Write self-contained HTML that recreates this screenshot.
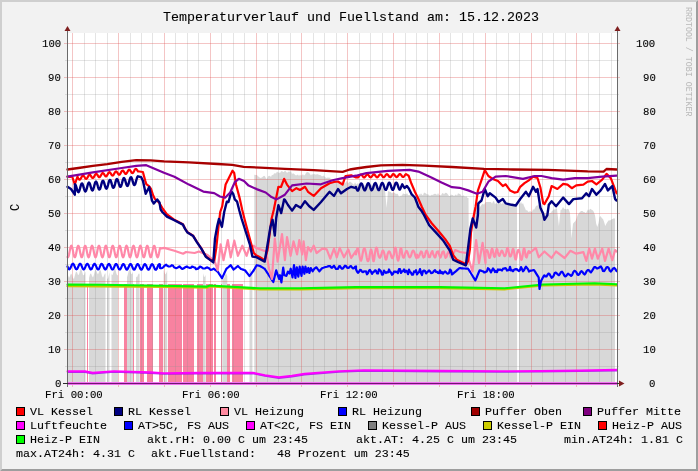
<!DOCTYPE html><html><head><meta charset="utf-8"><style>
html,body{margin:0;padding:0;width:698px;height:471px;overflow:hidden;background:#F2F2F2}
svg{position:absolute;left:0;top:0}
.t{position:absolute;font-family:"Liberation Mono",monospace;white-space:pre;color:#000;line-height:1;-webkit-font-smoothing:antialiased;-webkit-text-stroke:0.1px #000;will-change:transform}
</style></head><body>
<svg width="698" height="471" viewBox="0 0 698 471"><rect x="0" y="0" width="698" height="471" fill="#F2F2F2"/><polygon points="0,0 698,0 696,2 2,2 2,469 0,471" fill="#CFCFCF"/><polygon points="698,471 0,471 2,469 696,469 696,2 698,0" fill="#9E9E9E"/><rect x="67" y="33" width="550" height="350" fill="#FFFFFF"/><polygon points="68.0,383.0 68.0,275.3 69.0,277.9 70.0,276.1 71.0,273.5 72.0,274.7 73.0,278.2 74.0,278.7 75.0,274.9 76.0,271.4 77.0,272.2 78.0,274.9 79.0,274.4 80.0,270.6 81.0,268.5 82.0,271.2 83.0,275.0 84.0,275.2 85.0,272.5 85.5,271.8 85.5,383.0" fill="#D8D8D8"/><polygon points="89.0,383.0 89.0,278.0 90.0,274.3 91.0,273.3 92.0,275.9 93.0,277.4 94.0,274.4 95.0,270.1 96.0,269.7 97.0,272.8 98.0,274.5 99.0,272.1 100.0,269.6 101.0,271.4 102.0,275.9 103.0,277.8 104.0,275.4 105.0,273.3 105.5,273.8 105.5,383.0" fill="#D8D8D8"/><polygon points="107.0,383.0 107.0,278.7 108.0,278.4 109.0,274.3 109.5,272.3 109.5,383.0" fill="#D8D8D8"/><polygon points="111.5,383.0 111.5,274.3 112.5,275.2 113.5,272.0 114.5,268.7 115.5,269.8 116.5,273.9 117.5,275.6 118.0,274.7 118.0,383.0" fill="#D8D8D8"/><polygon points="127.0,383.0 127.0,277.3 128.0,273.7 129.0,269.8 130.0,270.1 131.0,273.4 132.0,274.3 133.0,271.5 133.0,271.5 133.0,383.0" fill="#D8D8D8"/><polygon points="136.0,383.0 136.0,276.4 137.0,277.5 138.0,274.8 139.0,273.3 139.6,274.5 139.6,383.0" fill="#D8D8D8"/><polygon points="163.6,383.0 163.6,269.7 164.6,272.7 165.6,274.5 166.6,272.2 167.2,270.3 167.2,383.0" fill="#D8D8D8"/><polygon points="203.0,383.0 203.0,273.3 204.0,277.1 205.0,276.6 205.6,274.8 205.6,383.0" fill="#D8D8D8"/><polygon points="222.3,383.0 222.3,275.2 223.3,278.9 224.3,278.1 225.3,274.5 226.3,273.5 227.3,276.2 227.3,276.2 227.3,383.0" fill="#D8D8D8"/><polygon points="249.5,383.0 249.5,269.6 250.5,268.9 251.5,272.3 252.4,275.1 252.4,383.0" fill="#D8D8D8"/><polygon points="254.3,383.0 254.3,174.7 256.0,175.0 257.0,174.9 258.0,176.6 259.0,176.8 260.0,178.0 261.0,177.8 262.0,177.4 263.0,176.5 264.0,175.8 265.0,176.3 266.0,178.5 267.0,179.0 268.0,176.5 269.0,175.8 270.0,176.0 271.0,177.0 272.0,174.7 273.0,175.2 274.0,173.5 275.0,173.2 276.0,173.4 277.0,171.6 278.0,172.5 279.0,172.6 280.0,172.9 281.0,171.4 282.0,171.0 283.0,172.0 284.0,171.9 285.0,170.2 286.0,171.8 287.0,172.7 288.0,172.2 289.0,171.3 290.0,172.0 291.0,170.9 292.0,174.1 293.0,173.3 294.0,173.8 295.0,174.7 296.0,175.4 297.0,175.0 298.0,174.5 299.0,176.0 300.0,174.4 301.0,175.8 302.0,175.0 303.0,174.3 304.0,175.4 305.0,174.7 306.0,173.0 307.0,172.0 308.0,172.3 309.0,172.8 310.0,174.0 311.0,175.6 312.0,174.0 313.0,174.7 314.0,173.7 315.0,174.4 316.0,174.5 317.0,174.3 318.0,174.3 319.0,175.1 320.0,175.0 321.0,175.4 322.0,176.5 323.0,176.0 324.0,175.5 325.0,177.2 326.0,177.4 327.0,178.2 328.0,177.0 329.0,178.2 330.0,177.2 331.0,180.0 332.0,179.5 333.0,181.4 334.0,181.5 335.0,180.8 336.0,181.0 337.0,181.8 338.0,180.3 339.0,182.4 340.0,181.5 341.0,181.8 342.0,181.0 343.0,180.4 344.0,183.0 345.0,183.5 346.0,182.0 347.0,180.8 348.0,183.3 349.0,182.2 350.0,181.5 351.0,182.2 352.0,183.0 353.0,184.1 354.0,184.7 355.0,182.3 356.0,184.0 357.0,184.5 358.0,182.8 359.0,185.1 360.0,184.5 361.0,184.0 362.0,185.8 363.0,186.2 364.0,184.7 365.0,186.3 366.0,184.2 367.0,183.5 368.0,185.2 369.0,183.5 370.0,185.0 371.0,184.2 372.0,185.1 373.0,186.0 374.0,184.7 375.0,184.5 376.0,187.4 377.0,185.8 378.0,188.1 379.0,188.1 380.0,187.0 381.0,187.2 382.0,188.1 383.0,188.9 384.0,189.9 385.0,190.0 386.6,208.0 388.0,191.0 389.0,191.6 390.0,191.8 391.0,192.2 392.0,193.6 393.0,192.5 394.0,192.5 395.0,193.0 396.0,194.3 397.0,193.4 398.0,194.2 399.0,196.9 400.0,196.0 401.0,195.7 402.0,195.4 403.0,193.2 404.0,194.1 405.0,194.0 406.0,194.5 407.0,192.9 408.0,195.0 409.0,195.2 410.0,195.0 411.0,193.8 412.0,195.8 413.0,195.5 414.0,196.4 415.0,196.0 416.0,195.3 417.0,196.3 418.0,196.2 419.0,193.7 420.0,195.0 421.0,193.2 422.0,194.8 423.0,195.3 424.0,192.6 425.0,193.0 426.0,193.5 427.0,194.5 428.0,194.2 429.0,195.0 430.0,196.0 431.0,195.0 432.0,194.8 433.0,195.1 434.0,193.8 435.0,194.0 436.0,193.8 437.0,195.3 438.0,193.1 439.0,195.0 440.0,195.0 441.0,195.4 442.0,193.6 443.0,192.9 444.0,194.4 445.0,193.0 446.0,192.8 447.0,193.2 448.0,194.6 449.0,196.0 450.0,196.0 451.0,194.5 452.0,195.0 453.0,194.9 454.0,196.3 455.0,195.0 456.0,194.6 457.0,195.7 458.0,193.3 459.0,193.7 460.0,194.0 461.0,195.1 462.0,196.4 463.0,195.6 464.0,195.5 465.0,197.0 466.2,196.1 467.3,197.8 468.5,198.0 469.0,275.0 470.1,274.0 471.2,276.0 472.4,276.1 473.5,275.0 474.0,208.0 475.0,206.8 476.0,207.0 477.0,208.5 478.0,207.8 479.0,208.1 480.0,207.0 481.0,205.7 482.0,204.2 483.0,203.9 484.0,204.7 485.0,203.0 486.0,202.1 487.0,202.1 488.0,202.1 489.0,201.9 490.0,202.0 491.0,201.9 492.0,203.7 493.0,201.4 494.0,201.1 495.0,204.3 496.0,203.0 497.0,203.8 498.0,203.8 499.0,201.7 500.0,201.5 501.0,203.4 502.0,203.9 503.0,202.1 504.0,204.3 505.0,204.0 506.0,204.9 507.0,204.1 508.0,203.5 509.0,202.5 510.0,203.0 511.0,203.2 512.0,203.6 513.0,203.9 514.0,206.0 515.0,206.0 516.0,204.7 517.0,205.0 517.2,383.0 518.9,383.0 519.0,203.0 520.0,204.0 521.0,201.5 522.0,204.3 523.0,203.0 524.0,206.1 525.0,208.0 526.0,210.4 527.0,210.0 528.0,211.6 529.0,211.9 530.0,211.0 531.0,211.7 532.0,212.0 533.0,209.1 534.0,210.1 535.0,208.0 536.0,205.9 537.0,205.4 538.0,205.5 539.0,204.0 540.0,205.7 541.0,207.1 542.0,210.4 543.0,211.0 544.0,211.8 545.0,214.0 546.0,213.0 547.0,214.8 548.0,213.4 549.0,214.2 550.0,212.7 551.0,213.0 552.0,210.7 553.0,210.4 554.0,209.0 555.0,210.0 556.0,207.9 557.0,209.0 558.9,226.0 560.6,210.0 561.8,209.4 563.0,207.0 564.1,208.8 565.2,208.9 566.4,209.4 567.5,208.8 568.8,209.5 570.0,213.3 571.5,238.6 573.0,223.7 574.2,222.2 575.5,221.0 576.7,217.9 577.9,214.2 579.0,213.3 580.1,211.8 581.3,211.0 582.4,211.0 583.6,211.9 584.8,212.3 586.0,213.3 587.0,211.2 588.0,209.3 589.0,210.7 590.0,208.7 591.0,209.3 592.0,210.0 593.0,210.5 594.0,212.2 595.1,215.8 596.2,223.7 597.3,227.1 598.5,223.1 599.6,216.8 600.7,216.2 601.9,218.3 603.0,219.1 604.1,222.0 605.3,226.0 606.5,223.5 607.6,221.7 608.8,220.2 609.8,220.4 610.9,219.9 612.0,218.9 613.0,219.1 614.0,218.1 615.0,219.0 615.0,383.0" fill="#D8D8D8"/><rect x="87" y="284" width="1" height="99" fill="#F882A0"/><rect x="124" y="284" width="3" height="99" fill="#F882A0"/><rect x="133" y="284" width="1" height="99" fill="#F882A0"/><rect x="140" y="284" width="4" height="99" fill="#F882A0"/><rect x="147" y="284" width="6" height="99" fill="#F882A0"/><rect x="159" y="284" width="4" height="99" fill="#F882A0"/><rect x="168" y="284" width="14" height="99" fill="#F882A0"/><rect x="183" y="284" width="11" height="99" fill="#F882A0"/><rect x="197" y="284" width="6" height="99" fill="#F882A0"/><rect x="206" y="284" width="7" height="99" fill="#F882A0"/><rect x="214" y="284" width="2" height="99" fill="#F882A0"/><rect x="221" y="284" width="1" height="99" fill="#F882A0"/><rect x="227" y="284" width="3" height="99" fill="#F882A0"/><rect x="232" y="284" width="11" height="99" fill="#F882A0"/><rect x="84" y="33" width="1" height="350" fill="rgba(143,143,143,0.24)"/><rect x="95" y="33" width="1" height="350" fill="rgba(143,143,143,0.24)"/><rect x="107" y="33" width="1" height="350" fill="rgba(143,143,143,0.24)"/><rect x="130" y="33" width="1" height="350" fill="rgba(143,143,143,0.24)"/><rect x="141" y="33" width="1" height="350" fill="rgba(143,143,143,0.24)"/><rect x="152" y="33" width="1" height="350" fill="rgba(143,143,143,0.24)"/><rect x="175" y="33" width="1" height="350" fill="rgba(143,143,143,0.24)"/><rect x="187" y="33" width="1" height="350" fill="rgba(143,143,143,0.24)"/><rect x="198" y="33" width="1" height="350" fill="rgba(143,143,143,0.24)"/><rect x="221" y="33" width="1" height="350" fill="rgba(143,143,143,0.24)"/><rect x="233" y="33" width="1" height="350" fill="rgba(143,143,143,0.24)"/><rect x="244" y="33" width="1" height="350" fill="rgba(143,143,143,0.24)"/><rect x="267" y="33" width="1" height="350" fill="rgba(143,143,143,0.24)"/><rect x="278" y="33" width="1" height="350" fill="rgba(143,143,143,0.24)"/><rect x="290" y="33" width="1" height="350" fill="rgba(143,143,143,0.24)"/><rect x="313" y="33" width="1" height="350" fill="rgba(143,143,143,0.24)"/><rect x="324" y="33" width="1" height="350" fill="rgba(143,143,143,0.24)"/><rect x="336" y="33" width="1" height="350" fill="rgba(143,143,143,0.24)"/><rect x="359" y="33" width="1" height="350" fill="rgba(143,143,143,0.24)"/><rect x="370" y="33" width="1" height="350" fill="rgba(143,143,143,0.24)"/><rect x="382" y="33" width="1" height="350" fill="rgba(143,143,143,0.24)"/><rect x="405" y="33" width="1" height="350" fill="rgba(143,143,143,0.24)"/><rect x="416" y="33" width="1" height="350" fill="rgba(143,143,143,0.24)"/><rect x="427" y="33" width="1" height="350" fill="rgba(143,143,143,0.24)"/><rect x="450" y="33" width="1" height="350" fill="rgba(143,143,143,0.24)"/><rect x="462" y="33" width="1" height="350" fill="rgba(143,143,143,0.24)"/><rect x="473" y="33" width="1" height="350" fill="rgba(143,143,143,0.24)"/><rect x="496" y="33" width="1" height="350" fill="rgba(143,143,143,0.24)"/><rect x="508" y="33" width="1" height="350" fill="rgba(143,143,143,0.24)"/><rect x="519" y="33" width="1" height="350" fill="rgba(143,143,143,0.24)"/><rect x="542" y="33" width="1" height="350" fill="rgba(143,143,143,0.24)"/><rect x="553" y="33" width="1" height="350" fill="rgba(143,143,143,0.24)"/><rect x="565" y="33" width="1" height="350" fill="rgba(143,143,143,0.24)"/><rect x="588" y="33" width="1" height="350" fill="rgba(143,143,143,0.24)"/><rect x="599" y="33" width="1" height="350" fill="rgba(143,143,143,0.24)"/><rect x="611" y="33" width="1" height="350" fill="rgba(143,143,143,0.24)"/><rect x="65" y="366" width="554" height="1" fill="rgba(143,143,143,0.24)"/><rect x="65" y="332" width="554" height="1" fill="rgba(143,143,143,0.24)"/><rect x="65" y="298" width="554" height="1" fill="rgba(143,143,143,0.24)"/><rect x="65" y="264" width="554" height="1" fill="rgba(143,143,143,0.24)"/><rect x="65" y="230" width="554" height="1" fill="rgba(143,143,143,0.24)"/><rect x="65" y="196" width="554" height="1" fill="rgba(143,143,143,0.24)"/><rect x="65" y="162" width="554" height="1" fill="rgba(143,143,143,0.24)"/><rect x="65" y="128" width="554" height="1" fill="rgba(143,143,143,0.24)"/><rect x="65" y="94" width="554" height="1" fill="rgba(143,143,143,0.24)"/><rect x="65" y="60" width="554" height="1" fill="rgba(143,143,143,0.24)"/><rect x="72" y="33" width="1" height="354" fill="rgba(222,79,79,0.33)"/><rect x="118" y="33" width="1" height="354" fill="rgba(222,79,79,0.33)"/><rect x="164" y="33" width="1" height="354" fill="rgba(222,79,79,0.33)"/><rect x="210" y="33" width="1" height="354" fill="rgba(222,79,79,0.33)"/><rect x="256" y="33" width="1" height="354" fill="rgba(222,79,79,0.33)"/><rect x="301" y="33" width="1" height="354" fill="rgba(222,79,79,0.33)"/><rect x="347" y="33" width="1" height="354" fill="rgba(222,79,79,0.33)"/><rect x="393" y="33" width="1" height="354" fill="rgba(222,79,79,0.33)"/><rect x="439" y="33" width="1" height="354" fill="rgba(222,79,79,0.33)"/><rect x="485" y="33" width="1" height="354" fill="rgba(222,79,79,0.33)"/><rect x="531" y="33" width="1" height="354" fill="rgba(222,79,79,0.33)"/><rect x="576" y="33" width="1" height="354" fill="rgba(222,79,79,0.33)"/><rect x="64" y="349" width="556" height="1" fill="rgba(222,79,79,0.33)"/><rect x="64" y="315" width="556" height="1" fill="rgba(222,79,79,0.33)"/><rect x="64" y="281" width="556" height="1" fill="rgba(222,79,79,0.33)"/><rect x="64" y="247" width="556" height="1" fill="rgba(222,79,79,0.33)"/><rect x="64" y="213" width="556" height="1" fill="rgba(222,79,79,0.33)"/><rect x="64" y="179" width="556" height="1" fill="rgba(222,79,79,0.33)"/><rect x="64" y="145" width="556" height="1" fill="rgba(222,79,79,0.33)"/><rect x="64" y="111" width="556" height="1" fill="rgba(222,79,79,0.33)"/><rect x="64" y="77" width="556" height="1" fill="rgba(222,79,79,0.33)"/><rect x="64" y="43" width="556" height="1" fill="rgba(222,79,79,0.33)"/><rect x="67" y="382" width="550" height="3" fill="#F070F0"/><polyline points="67.5,372.1 85.0,372.1 92.7,373.6 114.0,371.9 150.0,373.1 164.0,373.9 200.0,373.6 253.0,373.5 265.0,376.0 278.9,378.1 292.0,376.6 304.6,374.6 339.0,371.9 364.0,370.9 440.0,371.6 500.0,371.9 540.0,371.8 580.0,371.3 617.0,370.6" fill="none" stroke="#A000F0" stroke-width="1.6" stroke-linejoin="round" stroke-linecap="round" opacity="0.8"/><polyline points="67.5,371.3 85.0,371.3 92.7,372.8 114.0,371.1 150.0,372.3 164.0,373.1 200.0,372.8 253.0,372.7 265.0,375.2 278.9,377.3 292.0,375.8 304.6,373.8 339.0,371.1 364.0,370.1 440.0,370.8 500.0,371.1 540.0,371.0 580.0,370.5 617.0,369.8" fill="none" stroke="#FF00FF" stroke-width="1.9" stroke-linejoin="round" stroke-linecap="round" opacity="1"/><polyline points="67.5,286.2 100.0,286.4 164.0,286.8 207.0,287.6 210.0,286.5 260.0,289.3 300.0,289.3 356.0,288.1 440.0,288.1 504.5,289.3 543.0,285.5 594.7,284.3 617.0,285.3" fill="none" stroke="#C8C800" stroke-width="2.2" stroke-linejoin="round" stroke-linecap="round" opacity="1"/><polyline points="67.5,284.6 100.0,284.8 164.0,285.8 207.0,286.6 210.0,285.5 260.0,288.3 300.0,288.3 356.0,287.1 440.0,287.1 504.5,288.3 543.0,284.5 594.7,283.3 617.0,284.3" fill="none" stroke="#00F800" stroke-width="2.1" stroke-linejoin="round" stroke-linecap="round" opacity="1"/><polyline points="67.5,266.5 68.0,267.7 68.5,268.7 69.0,269.2 69.5,269.3 70.0,268.8 70.5,267.9 71.0,266.8 71.5,265.6 72.0,264.5 72.5,263.9 73.0,263.7 73.5,264.1 74.0,264.9 74.5,266.1 75.0,267.3 75.5,268.3 76.0,269.1 76.5,269.3 77.0,269.1 77.5,268.4 78.0,267.3 78.5,266.1 79.0,265.0 79.5,264.1 80.0,263.8 80.5,263.9 81.0,264.6 81.5,265.6 82.0,266.8 82.5,268.0 83.0,268.9 83.5,269.3 84.0,269.3 84.5,268.7 85.0,267.8 85.5,266.6 86.0,265.4 86.5,264.5 87.0,263.9 87.5,263.9 88.0,264.3 88.5,265.2 89.0,266.4 89.5,267.6 90.0,268.6 90.5,269.3 91.0,269.4 91.5,269.1 92.0,268.2 92.5,267.1 93.0,265.9 93.5,264.8 94.0,264.1 94.5,263.8 95.0,264.1 95.5,264.9 96.0,265.9 96.5,267.1 97.0,268.3 97.5,269.1 98.0,269.5 98.5,269.3 99.0,268.7 99.5,267.6 100.0,266.4 100.5,265.3 101.0,264.4 101.5,263.9 102.0,264.0 102.5,264.5 103.0,265.5 103.5,266.7 104.0,267.9 104.5,268.8 105.0,269.4 105.5,269.5 106.0,269.0 106.5,268.1 107.0,267.0 107.5,265.8 108.0,264.7 108.5,264.1 109.0,263.9 109.5,264.3 110.0,265.1 110.5,266.2 111.0,267.5 111.5,268.5 112.0,269.3 112.5,269.5 113.0,269.3 113.5,268.5 114.0,267.5 114.5,266.3 115.0,265.2 115.5,264.3 116.0,264.0 116.5,264.1 117.0,264.8 117.5,265.8 118.0,267.0 118.5,268.2 119.0,269.1 119.5,269.5 120.0,269.5 120.5,268.9 121.0,268.0 121.5,266.8 122.0,265.6 122.5,264.7 123.0,264.1 123.5,264.0 124.0,264.5 124.5,265.4 125.0,266.6 125.5,267.8 126.0,268.8 126.5,269.5 127.0,269.6 127.5,269.2 128.0,268.4 128.5,267.3 129.0,266.1 129.5,265.0 130.0,264.3 130.5,264.0 131.0,264.3 131.5,265.0 132.0,266.1 132.5,267.3 133.0,268.5 133.5,269.3 134.0,269.6 134.5,269.5 135.0,268.8 135.5,267.8 136.0,266.6 136.5,265.5 137.0,264.6 137.5,264.1 138.0,264.2 138.5,264.7 139.0,265.7 139.5,266.9 140.0,268.1 140.5,269.0 141.0,269.6 141.5,269.7 142.0,269.2 142.5,268.3 143.0,267.2 143.5,266.0 144.0,264.9 144.5,264.3 145.0,264.1 145.5,264.5 146.0,265.3 146.5,266.4 147.0,267.7 147.5,268.7 148.0,269.5 148.5,269.7 149.0,269.5 149.5,268.7 150.0,267.7 150.5,266.5 151.0,265.3 151.5,264.5 152.0,264.2 152.5,264.3 153.0,265.0 153.5,266.0 154.0,267.2 154.5,268.4 155.0,269.3 155.5,269.7 156.0,269.7 156.5,269.1 157.0,268.2 157.5,267.0 158.0,265.8 158.5,264.8 159.0,264.3 159.5,264.2 160.0,264.5 160.0,267.9 161.0,268.3 162.1,268.0 163.1,267.4 164.1,266.2 165.1,265.4 166.2,264.7 167.2,265.7 168.3,266.3 169.5,266.5 170.6,266.2 171.7,265.2 172.9,265.5 174.0,267.3 175.1,267.8 176.2,268.1 177.3,267.8 178.3,267.1 179.4,266.4 180.5,267.4 181.6,268.6 182.7,268.9 183.7,268.3 184.8,267.5 185.8,267.0 186.8,266.5 187.9,267.2 188.9,267.6 190.0,267.8 191.0,267.7 192.0,266.6 193.0,266.9 194.0,267.3 195.0,267.6 196.0,269.2 197.0,268.9 198.0,268.6 199.0,267.6 200.0,266.6 201.0,267.0 202.0,267.7 203.0,268.5 204.1,268.5 205.1,268.4 206.2,267.8 207.3,267.4 208.4,267.9 209.4,268.7 210.5,269.8 211.6,269.6 212.7,269.2 213.7,268.6 214.8,269.5 215.9,270.3 216.9,271.2 218.0,272.0 219.0,273.6 220.0,275.1 221.0,276.6 222.0,278.2 223.1,275.9 224.2,273.5 225.3,271.1 226.4,268.8 227.5,267.9 228.6,267.0 229.6,266.1 230.7,265.2 232.1,267.4 233.6,269.5 234.7,268.6 235.8,267.8 236.8,266.9 237.9,266.0 238.9,267.0 240.0,268.0 241.0,269.0 242.0,269.3 243.0,269.6 244.0,270.0 245.0,270.3 246.1,271.7 247.2,273.1 248.4,274.6 249.5,276.0 250.6,274.6 251.7,273.1 252.7,271.7 253.8,270.3 255.2,267.8 256.7,265.2 257.8,265.5 258.9,265.7 260.0,266.0 261.2,266.7 262.4,267.4 263.5,268.1 264.7,268.8 265.8,270.5 267.0,272.3 268.1,274.0 269.3,275.8 270.4,277.5 271.9,279.8 273.3,282.0 274.8,276.1 276.2,270.3 277.6,274.6 279.1,279.0 280.0,275.2 281.4,282.4 283.2,267.7 284.3,275.2 285.4,275.5 286.4,275.9 287.9,271.6 289.5,273.5 290.7,268.7 292.5,277.3 294.0,265.2 295.4,278.0 296.8,267.3 298.3,276.6 299.7,266.6 301.5,275.9 302.6,266.6 304.4,273.8 305.4,266.6 306.9,272.3 308.3,268.0 309.4,273.0 310.8,268.0 312.6,271.3 314.4,268.7 315.4,268.0 316.5,267.3 317.9,269.3 319.4,271.3 320.9,269.6 322.3,268.0 323.5,267.7 324.6,267.3 325.8,267.0 326.9,266.7 327.9,266.4 328.9,266.2 330.0,266.0 331.0,267.2 332.0,267.8 333.0,266.7 334.0,265.7 335.0,267.4 336.0,269.0 337.0,269.0 338.0,268.7 339.0,266.4 340.0,266.2 341.0,267.8 342.0,268.8 343.0,268.4 344.0,267.0 345.0,265.7 346.0,266.1 347.0,267.5 348.0,268.0 349.0,267.7 350.0,266.4 351.0,266.0 352.0,267.5 353.0,268.4 354.0,268.1 355.0,266.8 356.0,266.4 356.0,269.2 357.0,271.5 358.0,272.8 359.0,271.8 360.0,269.9 361.0,270.0 362.0,271.8 363.0,272.1 364.0,271.3 365.0,271.5 366.0,271.3 367.0,274.3 368.0,273.1 369.0,270.7 370.0,269.9 371.0,271.8 372.0,273.9 373.0,272.3 374.0,271.7 375.0,270.3 376.0,270.8 377.0,273.3 378.0,273.4 379.0,269.3 380.0,270.2 381.0,271.5 382.0,274.7 383.0,274.4 384.0,270.5 385.0,272.1 386.0,273.0 387.0,272.2 388.0,272.5 389.0,269.5 390.0,271.8 391.0,272.5 392.0,274.8 393.0,273.9 394.0,271.7 395.0,271.5 396.0,272.2 397.0,271.7 398.0,273.1 399.0,269.1 400.0,269.2 401.0,273.0 402.0,271.4 403.0,271.1 404.0,269.5 405.0,272.1 406.0,270.7 407.0,271.4 408.0,274.2 409.0,269.6 410.0,272.0 411.0,272.7 412.0,274.7 413.0,274.6 414.0,271.5 415.0,271.9 416.0,270.2 417.0,274.4 418.0,272.9 419.0,272.1 420.0,269.1 421.0,273.0 422.0,275.1 423.0,271.1 424.0,270.5 425.0,271.0 426.0,273.4 427.0,272.4 428.0,271.6 429.0,270.3 430.0,271.2 431.0,273.1 432.0,273.0 433.0,272.4 434.0,270.9 435.0,270.2 436.0,271.8 437.0,271.8 438.0,273.0 439.0,273.2 440.0,270.5 441.0,273.1 442.0,272.1 443.0,273.7 444.0,272.4 445.0,271.5 446.0,272.2 447.0,273.4 448.0,273.6 449.0,273.0 450.0,269.5 451.0,270.6 452.0,274.5 453.1,273.6 454.1,272.7 455.2,271.8 456.3,270.9 457.4,269.9 458.4,269.0 459.5,268.1 460.6,268.2 461.7,268.3 462.8,268.4 463.9,268.5 464.9,268.5 466.0,268.6 467.1,268.7 468.2,268.8 469.5,270.9 470.7,272.9 472.0,275.0 473.1,276.8 474.3,278.6 475.4,280.4 476.5,277.9 477.5,275.4 478.6,272.8 479.7,270.3 480.8,270.6 481.9,271.0 482.9,271.4 484.0,271.7 484.0,272.5 485.0,272.4 486.0,271.8 487.0,271.2 488.0,268.2 489.0,269.1 490.0,270.4 491.0,272.4 492.0,270.3 493.0,268.4 494.0,269.8 495.0,272.0 496.0,271.0 497.0,272.2 498.0,269.5 499.0,270.0 500.0,269.6 501.0,270.0 502.0,270.5 503.0,268.7 504.0,268.7 505.0,268.1 506.0,268.6 507.0,270.6 508.0,270.2 509.0,270.2 510.0,266.8 511.0,270.5 512.0,270.2 513.0,271.3 514.0,269.7 515.0,269.4 516.0,269.1 517.0,269.4 518.0,270.4 519.0,271.0 520.0,269.9 521.0,267.1 522.0,269.0 523.0,271.3 524.0,270.2 525.0,268.2 526.0,266.6 527.0,268.1 528.0,269.2 529.0,271.6 530.0,270.9 531.0,270.7 532.0,270.5 533.0,270.2 534.0,270.0 535.2,271.9 536.4,273.8 537.5,275.6 538.7,277.5 539.5,289.0 541.0,281.0 542.1,278.9 543.3,276.7 544.4,275.3 545.4,276.4 546.5,276.5 547.5,274.7 548.5,273.6 549.5,274.1 550.6,276.0 551.6,277.8 552.6,277.1 553.7,275.6 554.7,273.0 555.8,272.5 556.8,273.4 557.9,274.6 558.9,275.2 559.9,274.1 560.9,272.2 562.0,271.6 563.0,272.9 564.0,275.0 565.0,276.4 566.0,276.2 567.0,274.8 568.0,273.6 569.0,274.4 570.1,275.0 571.1,275.9 572.2,274.9 573.3,272.2 574.3,270.8 575.4,271.3 576.4,272.2 577.4,274.5 578.4,275.0 579.5,273.9 580.5,271.9 581.5,271.2 582.6,272.1 583.6,273.6 584.6,274.5 585.6,273.3 586.7,271.0 587.7,270.2 588.8,270.1 589.9,271.5 590.9,272.4 592.0,270.8 593.2,268.9 594.3,267.0 595.5,267.1 596.6,268.4 597.8,268.4 598.8,267.8 599.9,267.0 600.9,266.5 602.0,268.4 603.0,271.0 604.2,271.1 605.3,269.5 606.5,267.3 607.6,267.0 608.7,268.1 609.8,270.7 610.9,271.5 612.0,270.1 613.1,268.4 614.3,267.9 615.5,269.3 616.6,271.2" fill="none" stroke="#0000FF" stroke-width="2.2" stroke-linejoin="round" stroke-linecap="round" opacity="1"/><polyline points="67.5,256.9 68.0,257.3 68.5,256.5 69.0,254.7 69.5,252.2 70.0,249.6 70.5,247.4 71.0,246.0 71.5,245.7 72.0,246.7 72.5,248.6 73.0,251.1 73.5,253.7 74.0,255.8 74.5,257.1 75.0,257.2 75.5,256.2 76.0,254.2 76.5,251.7 77.0,249.1 77.5,247.0 78.0,245.9 78.5,245.8 79.0,247.0 79.5,249.0 80.0,251.6 80.5,254.1 81.0,256.1 81.5,257.2 82.0,257.1 82.5,255.9 83.0,253.7 83.5,251.1 84.0,248.6 84.5,246.7 85.0,245.8 85.5,246.0 86.0,247.3 86.5,249.5 87.0,252.1 87.5,254.6 88.0,256.4 88.5,257.3 89.0,256.9 89.5,255.5 90.0,253.2 90.5,250.6 91.0,248.2 91.5,246.4 92.0,245.7 92.5,246.2 93.0,247.7 93.5,250.0 94.0,252.6 94.5,255.0 95.0,256.7 95.5,257.3 96.0,256.7 96.5,255.1 97.0,252.7 97.5,250.1 98.0,247.8 98.5,246.2 99.0,245.7 99.5,246.4 100.0,248.1 100.5,250.5 101.0,253.2 101.5,255.4 102.0,256.9 102.5,257.3 103.0,256.5 103.5,254.7 104.0,252.2 104.5,249.6 105.0,247.4 105.5,246.0 106.0,245.7 106.5,246.7 107.0,248.6 107.5,251.1 108.0,253.7 108.5,255.8 109.0,257.1 109.5,257.2 110.0,256.2 110.5,254.2 111.0,251.7 111.5,249.1 112.0,247.0 112.5,245.9 113.0,245.8 113.5,247.0 114.0,249.0 114.5,251.6 115.0,254.1 115.5,256.1 116.0,257.2 116.5,257.1 117.0,255.9 117.5,253.7 118.0,251.1 118.5,248.6 119.0,246.7 119.5,245.8 120.0,246.0 120.5,247.3 121.0,249.5 121.5,252.1 122.0,254.6 122.5,256.4 123.0,257.3 123.5,256.9 124.0,255.5 124.5,253.2 125.0,250.6 125.5,248.2 126.0,246.4 126.5,245.7 127.0,246.2 127.5,247.7 128.0,250.0 128.5,252.6 129.0,255.0 129.5,256.7 130.0,257.3 130.5,256.7 131.0,255.1 131.5,252.7 132.0,250.1 132.5,247.8 133.0,246.2 133.5,245.7 134.0,246.4 134.5,248.1 135.0,250.5 135.5,253.2 136.0,255.4 136.5,256.9 137.0,257.3 137.5,256.5 138.0,254.7 138.5,252.2 139.0,249.6 139.5,247.4 140.0,246.0 140.5,245.7 141.0,246.7 141.5,248.6 142.0,251.1 142.5,253.7 143.0,255.8 143.5,257.1 144.0,257.2 144.5,256.2 145.0,254.2 145.5,251.7 146.0,249.1 146.5,247.0 147.0,245.9 147.5,245.8 148.0,247.0 148.5,249.0 149.0,251.6 149.5,254.1 150.0,256.1 150.5,257.2 151.0,257.1 151.5,255.9 152.0,253.7 152.5,251.1 153.0,248.6 153.5,246.7 154.0,245.8 154.5,246.0 155.0,247.3 155.5,249.5 156.0,252.1 156.5,254.6 157.0,256.4 157.5,257.3 158.0,256.9 158.5,255.5 159.0,253.2 159.5,250.6 160.0,248.2 160.0,248.6 164.3,247.9 174.4,250.8 183.1,253.7 186.0,252.0 194.6,253.0 199.0,251.5 207.6,255.1 214.8,261.6 217.7,270.3 220.6,244.3 223.5,260.2 227.8,240.0 230.7,257.3 234.3,240.7 237.9,255.8 242.3,245.7 246.6,255.8 249.5,247.2 253.8,245.7 256.0,247.9 266.1,251.5 269.0,268.8 271.9,279.0 274.8,238.5 277.6,261.6 282.0,234.2 284.9,260.2 287.0,237.0 290.6,255.8 293.5,241.4 297.1,254.4 299.3,240.0 302.2,254.4 303.6,241.4 305.8,260.2 308.0,247.2 310.8,251.5 313.7,245.7 316.6,253.0 322.4,248.6 326.7,249.4 330.3,258.7 334.0,248.6 336.8,257.3 339.7,247.9 344.0,257.3 348.3,249.4 351.2,258.0 356.0,250.8 356.0,254.4 356.5,251.6 357.0,249.4 357.5,248.3 358.0,248.7 358.5,250.3 359.0,252.9 359.5,255.9 360.0,258.6 360.5,260.3 361.0,260.7 361.5,259.6 362.0,257.4 362.5,254.4 363.0,251.7 363.5,249.6 364.1,248.4 364.6,248.4 365.1,249.6 365.6,251.7 366.2,254.4 366.7,257.4 367.2,259.8 367.7,261.1 368.2,261.1 368.8,259.8 369.3,257.4 369.8,254.4 370.3,251.5 370.8,249.7 371.3,249.7 371.8,251.5 372.3,254.4 372.8,258.5 373.3,261.1 373.8,261.1 374.3,258.5 374.8,254.4 375.3,251.2 375.8,248.8 376.4,247.6 376.9,248.0 377.4,249.9 377.9,252.8 378.4,255.2 378.9,256.6 379.4,257.6 379.9,257.8 380.4,257.2 380.9,256.0 381.4,254.4 381.9,252.4 382.4,251.0 382.9,250.4 383.4,251.0 384.0,252.4 384.5,254.4 385.0,257.0 385.5,259.0 386.0,259.7 386.5,259.0 387.0,257.0 387.5,254.4 388.1,252.9 388.6,251.8 389.1,251.4 389.7,251.8 390.2,252.9 390.7,254.4 391.3,256.3 391.8,257.7 392.3,258.2 392.8,257.7 393.4,256.3 393.9,254.4 394.4,250.7 394.9,248.1 395.5,247.6 396.0,249.2 396.5,252.5 397.0,256.2 397.5,259.1 398.0,260.6 398.5,260.1 399.0,257.8 399.6,254.4 400.1,250.7 400.6,248.3 401.2,248.3 401.7,250.7 402.2,254.4 402.8,256.5 403.3,257.7 403.8,257.7 404.4,256.5 404.9,254.4 405.5,252.7 406.0,251.4 406.5,250.9 407.1,251.4 407.6,252.7 408.2,254.4 408.7,255.9 409.2,256.9 409.8,257.3 410.3,256.9 410.9,255.9 411.4,254.4 411.9,252.7 412.4,251.4 412.9,250.7 413.4,250.7 414.0,251.4 414.5,252.7 415.0,254.4 415.5,256.1 416.0,257.4 416.5,258.1 417.0,254.7 417.5,255.4 418.0,257.4 418.5,257.3 419.0,255.7 419.5,255.5 420.0,253.4 420.5,252.5 421.0,251.5 421.5,251.8 422.0,252.3 422.5,254.6 423.0,256.5 423.5,257.5 424.0,257.1 424.5,256.9 425.0,255.0 425.5,252.8 426.0,251.3 426.5,250.6 427.0,251.1 427.5,252.1 428.0,254.3 428.5,256.3 429.0,257.1 429.5,257.2 430.0,256.9 430.5,254.9 431.0,253.5 431.5,252.6 432.0,251.3 432.5,251.2 433.0,253.5 433.5,254.8 434.0,255.9 434.5,257.0 435.0,257.5 435.5,257.0 436.0,254.9 436.5,252.9 437.0,251.8 437.5,252.1 438.0,251.3 438.5,252.9 439.0,254.1 439.5,255.8 440.0,256.9 440.5,257.5 441.0,256.4 441.5,254.8 442.0,253.2 442.5,251.9 443.0,251.8 443.5,251.3 444.0,252.4 444.5,254.7 445.0,256.3 445.5,257.9 446.0,257.1 446.5,257.0 447.0,255.5 447.5,253.3 448.0,253.4 448.5,251.5 449.0,251.5 449.5,253.3 450.0,254.4 450.5,256.8 451.0,257.5 451.5,257.4 452.0,256.6 455.2,250.1 460.0,252.0 466.8,253.0 472.5,271.7 476.1,240.0 479.0,263.0 482.6,242.9 485.5,263.0 485.5,253.0 486.0,251.2 486.6,250.1 487.1,250.1 487.7,251.2 488.2,253.1 488.7,256.0 489.3,257.8 489.8,257.8 490.4,256.0 490.9,253.1 491.4,250.2 492.0,248.7 492.5,249.3 493.0,251.6 493.6,254.5 494.1,256.5 494.6,257.0 495.2,255.7 495.7,253.2 496.2,250.4 496.8,248.9 497.3,249.5 497.8,251.8 498.4,254.2 498.9,255.6 499.4,255.9 499.9,255.0 500.5,253.3 501.0,251.9 501.5,250.8 502.0,250.6 502.5,251.3 503.0,252.6 503.6,254.2 504.1,255.6 504.6,256.2 505.1,256.0 505.6,255.0 506.1,253.5 506.6,250.4 507.1,248.4 507.7,248.0 508.2,249.3 508.7,251.9 509.2,254.4 509.7,255.8 510.2,256.5 510.7,256.3 511.2,255.2 511.7,253.6 512.3,250.7 512.8,249.0 513.3,249.0 513.8,250.8 514.3,253.6 514.8,257.2 515.4,259.4 515.9,259.4 516.4,257.3 516.9,253.7 517.4,251.6 518.0,250.1 518.5,249.8 519.1,250.7 519.6,252.6 520.2,255.5 520.7,258.4 521.3,259.9 521.8,259.4 522.3,257.2 522.9,253.8 523.4,250.2 523.9,248.2 524.5,248.9 525.0,251.9 525.5,255.1 526.0,257.0 526.6,257.5 527.1,256.2 527.6,253.9 528.2,252.1 528.7,251.1 529.3,251.4 529.8,253.0 535.8,247.9 538.7,257.3 544.4,251.5 551.6,258.0 556.0,251.5 564.6,258.0 570.4,250.8 576.2,253.7 583.4,252.2 586.3,260.9 589.2,248.6 592.0,258.7 594.9,248.6 597.8,258.7 602.2,248.6 605.0,260.9 608.6,248.6 612.3,260.2 615.1,250.1 616.6,251.5" fill="none" stroke="#FF88A8" stroke-width="2.2" stroke-linejoin="round" stroke-linecap="round" opacity="1"/><polyline points="67.5,176.5 70.0,177.0 72.0,176.0 74.8,184.5 77.5,176.5 78.0,178.0 78.5,178.8 79.0,179.4 79.5,179.7 80.0,179.5 80.5,179.0 81.0,178.2 81.5,177.2 82.0,176.3 82.5,175.7 83.0,175.5 83.5,175.7 84.0,176.2 84.5,177.0 85.0,177.8 85.5,178.5 86.0,178.8 86.5,178.8 87.0,178.3 87.5,177.5 88.0,176.6 88.5,175.7 89.0,175.0 89.5,174.7 90.0,174.8 90.5,175.3 91.0,176.0 91.5,176.8 92.0,177.6 92.5,178.0 93.0,178.0 93.5,177.6 94.0,176.9 94.5,175.9 95.0,175.0 95.5,174.3 96.0,173.9 96.5,173.9 97.0,174.3 97.5,175.0 98.0,175.9 98.5,176.6 99.0,177.1 99.5,177.2 100.0,176.9 100.5,176.2 101.0,175.3 101.5,174.4 102.0,173.6 102.5,173.1 103.0,173.0 103.5,173.4 104.0,174.0 104.5,174.9 105.0,175.7 105.5,176.2 106.0,176.4 106.5,176.2 107.0,175.5 107.5,174.7 108.0,173.7 108.5,172.9 109.0,172.3 109.5,172.2 110.0,172.5 110.5,173.1 111.0,173.9 111.5,174.7 112.0,175.3 112.5,175.6 113.0,175.4 113.5,174.9 114.0,174.0 114.5,173.1 115.0,172.2 115.5,171.6 116.0,171.4 116.5,171.5 117.0,172.1 117.5,172.9 118.0,173.7 118.5,174.4 119.0,174.7 119.5,174.7 120.0,174.2 120.5,173.4 121.0,172.4 121.5,171.5 122.0,170.9 122.5,170.5 123.0,170.6 123.5,171.1 124.0,171.9 124.5,172.7 125.0,173.4 125.5,173.9 126.0,173.9 126.5,173.5 127.0,172.7 127.5,171.8 128.0,170.9 128.5,170.1 129.0,169.7 129.5,169.8 130.0,170.2 130.5,170.9 131.0,171.7 131.5,172.5 132.0,173.0 132.5,173.1 133.0,172.8 133.5,172.1 134.0,171.2 134.5,170.2 135.0,169.4 135.5,169.0 136.0,168.9 136.5,169.3 137.0,169.9 137.5,170.7 138.0,171.5 139.4,171.5 142.9,172.0 145.2,180.6 146.3,184.1 148.6,185.8 150.9,188.7 153.2,195.5 154.9,199.0 158.9,202.4 162.4,208.1 167.0,214.5 173.8,219.5 182.9,224.2 185.2,228.8 187.5,232.2 193.2,235.8 196.7,241.5 201.3,248.4 205.8,256.4 210.4,259.8 214.4,260.1 216.2,248.7 218.5,226.9 220.2,212.0 222.2,206.3 225.6,184.5 229.1,177.6 232.5,170.7 234.2,173.0 236.0,184.5 239.4,197.1 242.2,209.7 244.5,219.0 250.9,242.9 253.8,253.0 256.0,255.1 260.0,257.3 264.7,260.2 267.5,250.1 270.4,228.4 271.5,219.0 273.8,209.7 278.4,186.8 281.0,187.0 284.1,178.8 287.0,184.6 292.1,191.1 296.4,188.2 300.0,190.0 305.0,186.8 308.0,191.8 313.7,195.9 321.0,188.2 329.6,183.2 334.0,182.0 338.0,181.5 342.6,184.6 345.5,176.0 351.2,175.3 356.0,177.4 356.0,176.0 356.5,176.7 357.0,177.2 357.5,177.5 358.0,177.4 358.5,177.0 359.0,176.3 359.5,175.6 360.0,175.0 360.5,174.6 361.0,174.5 361.5,174.7 362.0,175.2 362.5,175.9 363.0,176.6 363.5,177.2 364.0,177.4 364.5,177.3 365.0,176.9 365.5,176.3 366.0,175.5 366.5,174.9 367.0,174.5 367.5,174.4 368.0,174.6 368.5,175.2 369.0,175.9 369.5,176.6 370.0,177.1 370.5,177.3 371.0,177.3 371.5,176.8 372.0,176.2 372.5,175.5 373.0,174.8 373.5,174.4 374.0,174.3 374.5,174.6 375.0,175.1 375.5,175.8 376.0,176.5 376.5,177.0 377.0,177.3 377.5,177.2 378.0,176.8 378.5,176.1 379.0,175.4 379.5,174.8 380.0,174.4 380.5,174.3 381.0,174.5 381.5,175.0 382.0,175.7 382.5,176.4 383.0,177.0 383.5,177.2 384.0,177.1 384.5,176.7 385.0,176.1 385.5,175.3 386.0,174.7 386.5,174.3 387.0,174.2 387.5,174.5 388.0,175.0 388.5,175.7 389.0,176.4 389.5,176.9 390.0,177.1 390.5,177.1 391.0,176.6 391.5,176.0 392.0,175.3 392.5,174.6 393.0,174.2 393.5,174.1 394.0,174.4 394.5,174.9 395.0,175.6 395.5,176.3 396.0,176.8 396.5,177.1 397.0,177.0 397.5,176.6 398.0,175.9 398.5,175.2 399.0,174.6 399.5,174.2 400.0,174.1 400.5,174.3 401.0,174.9 401.5,175.5 402.0,176.2 402.5,176.8 403.0,177.0 403.5,176.9 404.0,176.5 404.5,175.9 405.0,175.2 405.5,174.5 406.0,174.1 408.6,175.7 411.5,183.8 414.9,191.8 418.3,198.7 421.8,206.7 425.7,215.0 431.5,223.0 439.5,232.2 445.2,239.1 449.8,245.9 453.2,255.1 456.7,259.7 463.6,263.1 466.4,264.3 468.1,260.8 469.9,249.4 471.0,232.2 473.9,215.0 475.6,206.7 477.9,190.6 481.9,178.9 484.8,170.2 488.4,176.0 492.7,178.9 498.0,181.0 502.8,186.1 505.7,184.3 510.0,190.4 514.4,192.6 517.5,192.0 520.2,186.8 524.5,183.2 528.8,180.3 533.1,176.7 537.5,178.0 540.4,187.5 543.2,203.4 544.4,204.1 548.8,196.2 551.6,186.1 557.4,189.0 563.2,183.9 567.5,184.6 571.8,188.2 576.2,185.4 583.4,184.6 587.7,181.7 592.0,181.0 596.4,184.3 602.2,179.6 606.5,173.8 610.8,178.1 616.6,193.3" fill="none" stroke="#FF0000" stroke-width="2.2" stroke-linejoin="round" stroke-linecap="round" opacity="1"/><polyline points="67.5,186.8 71.0,189.0 74.8,194.7 75.0,184.3 75.5,184.8 76.0,186.0 76.5,187.7 77.0,189.5 77.5,191.0 78.0,192.0 78.5,192.2 79.0,191.6 79.5,190.3 80.0,188.5 80.5,186.6 81.0,184.9 81.5,183.8 82.0,183.4 82.5,183.9 83.0,185.1 83.5,186.8 84.0,188.6 84.5,190.1 85.0,191.1 85.5,191.4 86.0,190.7 86.5,189.4 87.0,187.6 87.5,185.7 88.0,184.0 88.5,182.9 89.0,182.5 89.5,183.0 90.0,184.2 90.5,185.9 91.0,187.7 91.5,189.2 92.0,190.2 92.5,190.5 93.0,189.9 93.5,188.5 94.0,186.7 94.5,184.8 95.0,183.1 95.5,182.0 96.0,181.6 96.5,182.1 97.0,183.3 97.5,185.0 98.0,186.8 98.5,188.4 99.0,189.4 99.5,189.6 100.0,189.0 100.5,187.6 101.0,185.8 101.5,183.9 102.0,182.2 102.5,181.1 103.0,180.8 103.5,181.2 104.0,182.4 104.5,184.1 105.0,185.9 105.5,187.5 106.0,188.5 106.5,188.7 107.0,188.1 107.5,186.8 108.0,185.0 108.5,183.0 109.0,181.3 109.5,180.2 110.0,179.9 110.5,180.3 111.0,181.5 111.5,183.2 112.0,185.0 112.5,186.6 113.0,187.6 113.5,187.8 114.0,187.2 114.5,185.9 115.0,184.1 115.5,182.1 116.0,180.4 116.5,179.3 117.0,179.0 117.5,179.5 118.0,180.7 118.5,182.3 119.0,184.1 119.5,185.7 120.0,186.7 120.5,186.9 121.0,186.3 121.5,185.0 122.0,183.2 122.5,181.2 123.0,179.6 123.5,178.4 124.0,178.1 124.5,178.6 125.0,179.8 125.5,181.4 126.0,183.2 126.5,184.8 127.0,185.8 127.5,186.0 128.0,185.4 128.5,184.1 129.0,182.3 129.5,180.4 130.0,178.7 130.5,177.5 131.0,177.2 131.5,177.7 132.0,178.9 132.5,180.6 133.0,182.4 133.5,183.9 134.0,184.9 134.5,185.1 135.0,184.5 135.5,183.2 136.0,181.4 136.5,179.5 137.0,177.8 137.5,176.7 138.0,176.3 141.2,177.2 143.0,181.0 145.7,193.8 149.2,187.0 152.0,200.7 153.8,203.6 157.2,199.5 159.5,202.4 160.6,209.3 162.3,212.0 166.9,216.6 173.8,220.0 182.9,224.6 185.2,229.2 187.5,232.6 193.2,236.1 196.7,241.8 201.3,248.7 205.8,256.7 210.4,260.1 213.3,262.4 215.0,238.4 217.3,225.8 219.0,218.9 221.9,226.9 224.2,212.0 226.8,201.7 228.5,202.0 231.4,191.4 233.1,193.7 234.8,199.4 237.1,201.7 239.4,210.8 241.7,219.0 250.0,245.0 252.4,256.6 256.0,257.0 264.7,261.6 267.0,248.0 270.4,227.0 272.6,219.8 274.8,235.6 276.2,218.0 278.4,205.1 281.2,213.1 284.1,199.4 284.9,199.8 288.0,205.0 292.1,210.6 296.0,205.0 300.7,207.7 305.0,201.2 309.0,206.0 313.7,209.9 321.0,202.0 329.6,191.8 334.0,196.0 338.0,189.0 341.0,193.3 347.0,189.0 351.2,186.8 356.0,188.2 356.0,187.0 356.5,188.6 357.0,189.8 357.5,190.5 358.0,190.5 358.5,189.8 359.0,188.5 359.5,186.9 360.0,185.3 360.5,184.1 361.0,183.4 361.5,183.4 362.0,184.0 362.5,185.3 363.0,186.8 363.5,188.4 364.0,189.6 364.5,190.3 365.0,190.3 365.5,189.6 366.0,188.3 366.5,186.8 367.0,185.2 367.5,183.9 368.0,183.2 368.5,183.2 369.0,183.9 369.5,185.1 370.0,186.7 370.5,188.2 371.0,189.5 371.5,190.2 372.0,190.1 372.5,189.4 373.0,188.2 373.5,186.6 374.0,185.0 374.5,183.8 375.0,183.1 375.5,183.0 376.0,183.7 376.5,185.0 377.0,186.5 377.5,188.1 378.0,189.3 378.5,190.0 379.0,190.0 379.5,189.3 380.0,188.0 380.5,186.4 381.0,184.9 381.5,183.6 382.0,182.9 382.5,182.9 383.0,183.6 383.5,184.8 384.0,186.4 384.5,187.9 385.0,189.2 385.5,189.8 386.0,189.8 386.5,189.1 387.0,187.9 387.5,186.3 388.0,184.7 388.5,183.4 389.0,182.7 389.5,182.7 390.0,183.4 390.5,184.7 391.0,186.2 391.5,187.8 392.0,189.0 392.5,189.7 393.0,189.7 393.5,189.0 394.0,187.7 394.5,186.1 395.0,184.6 395.5,183.3 396.0,182.6 396.5,182.6 397.0,183.3 397.5,184.5 398.0,186.0 398.5,187.6 399.0,188.8 399.5,189.5 400.0,189.5 402.3,184.3 404.5,188.0 406.9,186.0 408.8,188.5 411.5,194.1 414.9,197.5 418.3,206.7 421.8,211.3 424.0,215.0 429.2,225.3 437.2,233.9 442.9,240.2 449.8,250.5 453.2,259.7 457.8,262.0 465.8,265.4 467.6,251.7 470.4,228.8 472.7,218.4 476.2,227.6 477.9,215.0 478.3,203.4 481.5,200.5 484.8,189.0 487.7,196.2 489.8,193.3 495.6,197.6 498.5,202.0 502.8,199.0 505.7,203.4 511.5,204.8 515.8,205.5 520.2,199.0 525.9,191.8 528.8,196.2 533.1,186.8 536.0,191.8 537.5,189.0 540.4,207.7 543.0,213.5 544.4,219.8 547.3,215.4 548.8,204.8 551.6,201.2 556.0,206.3 563.2,197.6 569.0,204.1 573.3,199.1 582.0,198.3 586.3,193.3 589.0,196.2 592.0,189.0 596.4,194.7 600.7,190.4 605.0,183.9 607.9,190.4 612.3,186.1 615.1,199.1 616.6,200.5" fill="none" stroke="#000080" stroke-width="2.4" stroke-linejoin="round" stroke-linecap="round" opacity="1"/><polyline points="67.5,176.7 92.9,172.4 121.7,168.0 136.2,165.9 146.3,165.2 164.0,172.8 174.4,176.7 188.9,184.6 203.3,191.6 214.2,193.1 219.9,196.5 225.1,197.7 230.2,192.5 234.8,182.2 238.8,178.8 244.0,181.0 248.6,185.6 256.6,189.1 265.7,192.5 271.5,197.1 276.6,199.4 284.9,194.7 292.1,185.4 306.5,183.5 320.9,184.3 332.5,180.3 342.6,178.1 356.0,175.7 366.4,173.1 388.1,170.9 409.7,169.9 418.4,171.6 431.4,177.4 441.5,182.5 452.0,187.2 459.5,187.8 468.2,190.4 476.9,193.7 482.6,191.8 488.4,181.7 495.6,176.7 505.7,176.0 523.0,178.9 534.6,176.0 541.5,176.0 551.6,178.1 563.2,179.6 575.0,178.1 587.7,178.1 602.2,176.7 616.6,175.7" fill="none" stroke="#8000A0" stroke-width="2.2" stroke-linejoin="round" stroke-linecap="round" opacity="1"/><polyline points="67.5,169.5 78.4,168.0 92.9,165.9 107.3,164.1 121.7,161.8 136.2,160.1 150.6,160.4 164.0,161.3 188.9,162.3 217.7,164.0 232.2,164.9 243.7,166.9 260.0,167.6 284.9,168.8 313.7,170.2 342.6,171.9 349.8,169.5 356.0,168.5 366.4,167.0 380.9,165.4 402.5,164.9 424.2,165.6 452.0,167.0 484.1,168.8 512.9,169.5 548.0,169.9 587.7,171.4 603.6,171.6 606.5,169.0 616.6,169.5" fill="none" stroke="#A80000" stroke-width="2.3" stroke-linejoin="round" stroke-linecap="round" opacity="1"/><rect x="67" y="31" width="1" height="356" fill="#6A6A6A"/><rect x="617" y="31" width="1" height="356" fill="#6A6A6A"/><rect x="63" y="383" width="5" height="1" fill="#2C2C2C"/><rect x="617" y="383" width="4" height="1" fill="#2C2C2C"/><rect x="68" y="383" width="549" height="1" fill="#701870"/><polygon points="67.5,26 70.5,31 64.5,31" fill="#7F1F1F"/><polygon points="617.5,26 620.5,31 614.5,31" fill="#7F1F1F"/><polygon points="624.5,383.5 619,386.5 619,380.5" fill="#7F1F1F"/></svg>
<div class="t" style="left:163px;top:11px;font-size:13.34px;">Temperaturverlauf und Fuellstand am: 15.12.2023</div><div class="t" style="left:54.58px;top:378.5px;font-size:10.7px;">0</div><div class="t" style="left:649.08px;top:378.5px;font-size:10.7px;">0</div><div class="t" style="left:48.16px;top:344.5px;font-size:10.7px;">10</div><div class="t" style="left:642.66px;top:344.5px;font-size:10.7px;">10</div><div class="t" style="left:48.16px;top:310.5px;font-size:10.7px;">20</div><div class="t" style="left:642.66px;top:310.5px;font-size:10.7px;">20</div><div class="t" style="left:48.16px;top:276.5px;font-size:10.7px;">30</div><div class="t" style="left:642.66px;top:276.5px;font-size:10.7px;">30</div><div class="t" style="left:48.16px;top:242.5px;font-size:10.7px;">40</div><div class="t" style="left:642.66px;top:242.5px;font-size:10.7px;">40</div><div class="t" style="left:48.16px;top:208.5px;font-size:10.7px;">50</div><div class="t" style="left:642.66px;top:208.5px;font-size:10.7px;">50</div><div class="t" style="left:48.16px;top:174.5px;font-size:10.7px;">60</div><div class="t" style="left:642.66px;top:174.5px;font-size:10.7px;">60</div><div class="t" style="left:48.16px;top:140.5px;font-size:10.7px;">70</div><div class="t" style="left:642.66px;top:140.5px;font-size:10.7px;">70</div><div class="t" style="left:48.16px;top:106.5px;font-size:10.7px;">80</div><div class="t" style="left:642.66px;top:106.5px;font-size:10.7px;">80</div><div class="t" style="left:48.16px;top:72.5px;font-size:10.7px;">90</div><div class="t" style="left:642.66px;top:72.5px;font-size:10.7px;">90</div><div class="t" style="left:41.74px;top:38.5px;font-size:10.7px;">100</div><div class="t" style="left:636.24px;top:38.5px;font-size:10.7px;">100</div><div class="t" style="left:44.83916666666667px;top:390px;font-size:10.7px;">Fri 00:00</div><div class="t" style="left:182.3391666666667px;top:390px;font-size:10.7px;">Fri 06:00</div><div class="t" style="left:319.8391666666667px;top:390px;font-size:10.7px;">Fri 12:00</div><div class="t" style="left:457.3391666666667px;top:390px;font-size:10.7px;">Fri 18:00</div><div class="t" style="left:30px;top:407px;font-size:11.67px;">VL Kessel</div><div class="t" style="left:128px;top:407px;font-size:11.67px;">RL Kessel</div><div class="t" style="left:234px;top:407px;font-size:11.67px;">VL Heizung</div><div class="t" style="left:352px;top:407px;font-size:11.67px;">RL Heizung</div><div class="t" style="left:485px;top:407px;font-size:11.67px;">Puffer Oben</div><div class="t" style="left:597px;top:407px;font-size:11.67px;">Puffer Mitte</div><div class="t" style="left:30px;top:421px;font-size:11.67px;">Luftfeuchte</div><div class="t" style="left:138px;top:421px;font-size:11.67px;">AT&gt;5C, FS AUS</div><div class="t" style="left:260px;top:421px;font-size:11.67px;">AT&lt;2C, FS EIN</div><div class="t" style="left:382px;top:421px;font-size:11.67px;">Kessel-P AUS</div><div class="t" style="left:497px;top:421px;font-size:11.67px;">Kessel-P EIN</div><div class="t" style="left:612px;top:421px;font-size:11.67px;">Heiz-P AUS</div><div class="t" style="left:30px;top:435px;font-size:11.67px;">Heiz-P EIN</div><div class="t" style="left:147px;top:435px;font-size:11.67px;">akt.rH: 0.00 C um 23:45</div><div class="t" style="left:355.5px;top:435px;font-size:11.67px;">akt.AT: 4.25 C um 23:45</div><div class="t" style="left:563.5px;top:435px;font-size:11.67px;">min.AT24h: 1.81 C</div><div class="t" style="left:16px;top:449px;font-size:11.67px;">max.AT24h: 4.31 C</div><div class="t" style="left:150.5px;top:449px;font-size:11.67px;">akt.Fuellstand:   48 Prozent um 23:45</div><div class="t" style="left:682px;top:6.5px;font-size:8.3px;color:#B8B8B8;-webkit-text-stroke:0;transform-origin:0 0;transform:translate(10px,0) rotate(90deg)">RRDTOOL / TOBI OETIKER</div><div class="t" style="left:10px;top:211px;font-size:12px;transform-origin:0 0;transform:rotate(-90deg)">C</div><div style="position:absolute;left:16px;top:407px;width:7px;height:7px;border:1px solid #000;background:#FF0000"></div><div style="position:absolute;left:114px;top:407px;width:7px;height:7px;border:1px solid #000;background:#000080"></div><div style="position:absolute;left:220px;top:407px;width:7px;height:7px;border:1px solid #000;background:#FF8AA0"></div><div style="position:absolute;left:338px;top:407px;width:7px;height:7px;border:1px solid #000;background:#0000FF"></div><div style="position:absolute;left:471px;top:407px;width:7px;height:7px;border:1px solid #000;background:#A00000"></div><div style="position:absolute;left:583px;top:407px;width:7px;height:7px;border:1px solid #000;background:#800080"></div><div style="position:absolute;left:16px;top:421px;width:7px;height:7px;border:1px solid #000;background:#FF00FF"></div><div style="position:absolute;left:124px;top:421px;width:7px;height:7px;border:1px solid #000;background:#0000FF"></div><div style="position:absolute;left:246px;top:421px;width:7px;height:7px;border:1px solid #000;background:#FF00FF"></div><div style="position:absolute;left:368px;top:421px;width:7px;height:7px;border:1px solid #000;background:#808080"></div><div style="position:absolute;left:483px;top:421px;width:7px;height:7px;border:1px solid #000;background:#CCCC00"></div><div style="position:absolute;left:598px;top:421px;width:7px;height:7px;border:1px solid #000;background:#FF0000"></div><div style="position:absolute;left:16px;top:435px;width:7px;height:7px;border:1px solid #000;background:#00FF00"></div></body></html>
